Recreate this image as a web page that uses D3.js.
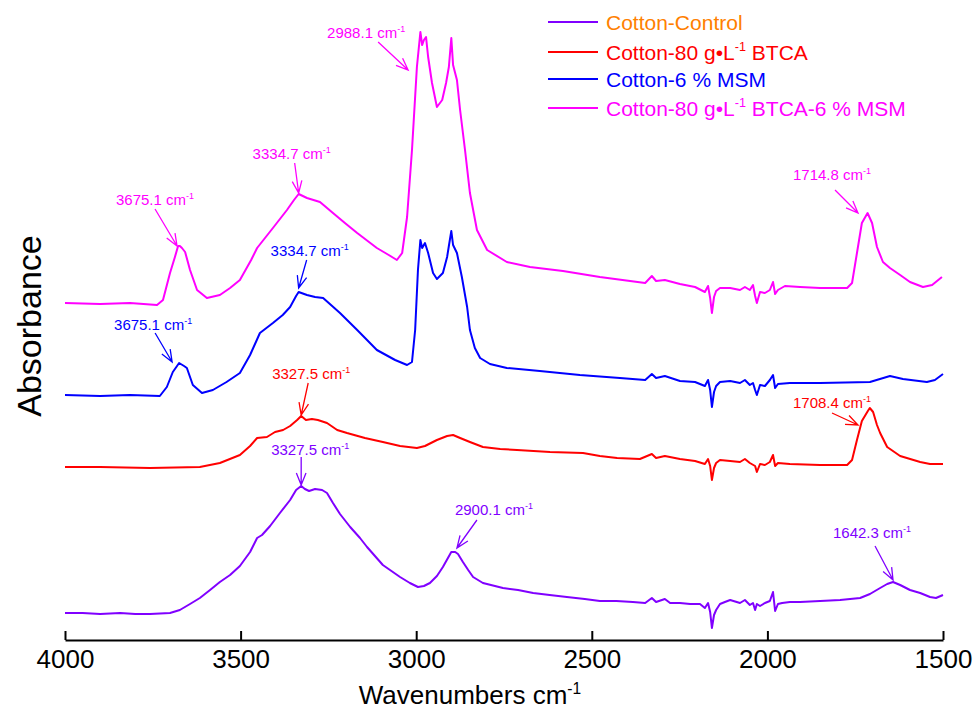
<!DOCTYPE html>
<html>
<head>
<meta charset="utf-8">
<script src="https://cdn.jsdelivr.net/npm/d3@7"></script>
<style>
  body {margin: 0; background: #fff;}
  svg {display: block; font-family: Arial, "Liberation Sans", sans-serif;}
</style>
</head>
<body>
<svg id="chart" width="974" height="711"></svg>
<script>
// spectra, [wavenumber cm-1, absorbance (offset, arb. units)]
var control = [
  [4000, 0.27], [3950, 0.27], [3900, 0.26], [3843, 0.27], [3800, 0.26], [3758, 0.26], [3701, 0.27], [3673, 0.30],
  [3644, 0.36], [3616, 0.42], [3587, 0.50], [3559, 0.58], [3530, 0.65], [3502, 0.74],
  [3473, 0.88], [3453, 1.02], [3439, 1.05], [3416, 1.14], [3388, 1.27], [3359, 1.40],
  [3342, 1.50], [3327.5, 1.54], [3317, 1.51], [3305, 1.49], [3288, 1.51], [3268, 1.50],
  [3254, 1.47], [3237, 1.37], [3217, 1.26], [3188, 1.13], [3160, 1.02], [3140, 0.93],
  [3095, 0.75], [3046, 0.63], [3018, 0.57], [2995, 0.53], [2978, 0.54], [2961, 0.57],
  [2941, 0.64], [2924, 0.73], [2900.1, 0.88], [2889, 0.88], [2881, 0.86], [2867, 0.78],
  [2852, 0.70], [2838, 0.63], [2810, 0.57], [2753, 0.52], [2710, 0.50], [2667, 0.47], [2620, 0.45], [2571, 0.43],
  [2520, 0.41], [2477, 0.39], [2430, 0.39], [2383, 0.38], [2348, 0.37], [2329, 0.42], [2317, 0.38], [2292, 0.41],
  [2277, 0.37], [2249, 0.37], [2220, 0.36], [2192, 0.36], [2178, 0.32], [2169, 0.37],
  [2163, 0.28], [2158, 0.12], [2152, 0.25], [2146, 0.30], [2135, 0.36], [2121, 0.38],
  [2106, 0.40], [2078, 0.37], [2064, 0.40], [2050, 0.35], [2041, 0.37], [2035, 0.30],
  [2030, 0.36], [2021, 0.34], [2007, 0.37], [1993, 0.39], [1984, 0.48], [1978, 0.29],
  [1970, 0.36], [1958, 0.37], [1936, 0.38], [1907, 0.38], [1850, 0.39], [1793, 0.40],
  [1736, 0.42], [1708, 0.46], [1679, 0.52], [1659, 0.56], [1642.3, 0.58], [1622, 0.55],
  [1594, 0.50], [1565, 0.47], [1537, 0.43], [1520, 0.42], [1500, 0.45]
]

var btca = [
  [4000, 1.73], [3900, 1.73], [3758, 1.72], [3616, 1.73], [3559, 1.77], [3502, 1.85],
  [3473, 1.94], [3453, 2.02], [3425, 2.03], [3402, 2.08], [3379, 2.10], [3359, 2.14],
  [3339, 2.20], [3327.5, 2.24], [3314, 2.20], [3297, 2.21], [3280, 2.20], [3254, 2.17],
  [3225, 2.10], [3197, 2.07], [3146, 2.02], [3095, 1.98], [3046, 1.94], [2998, 1.92],
  [2975, 1.94], [2941, 2.00], [2912, 2.04], [2895, 2.05], [2875, 2.02], [2847, 1.98],
  [2810, 1.93], [2761, 1.91], [2713, 1.90], [2619, 1.88], [2525, 1.87], [2477, 1.84],
  [2428, 1.82], [2363, 1.81], [2329, 1.86], [2317, 1.82], [2292, 1.84], [2249, 1.81],
  [2206, 1.79], [2178, 1.76], [2169, 1.81], [2163, 1.74], [2158, 1.60], [2152, 1.72],
  [2146, 1.77], [2135, 1.80], [2106, 1.79], [2078, 1.78], [2064, 1.81], [2050, 1.77],
  [2035, 1.74], [2030, 1.68], [2021, 1.76], [2007, 1.75], [1993, 1.78], [1984, 1.85],
  [1978, 1.74], [1970, 1.77], [1936, 1.76], [1850, 1.75], [1773, 1.75], [1759, 1.80],
  [1745, 2.00], [1731, 2.19], [1714, 2.29], [1708.4, 2.32], [1699, 2.28], [1688, 2.15],
  [1679, 2.07], [1659, 1.93], [1622, 1.84], [1565, 1.78], [1537, 1.76], [1500, 1.76]
]

var msm = [
  [4000, 2.45], [3900, 2.44], [3815, 2.45], [3730, 2.44], [3710, 2.53], [3693, 2.68],
  [3681, 2.74], [3675.1, 2.77], [3661, 2.74], [3653, 2.72], [3636, 2.55], [3610, 2.47],
  [3579, 2.50], [3540, 2.58], [3502, 2.67], [3473, 2.85], [3445, 3.07], [3408, 3.17], [3380, 3.25], [3359, 3.33],
  [3342, 3.44], [3334.7, 3.48], [3311, 3.45], [3288, 3.43], [3265, 3.42], [3217, 3.27],
  [3168, 3.10], [3112, 2.90], [3060, 2.80], [3026, 2.75], [3012, 2.78], [3003, 3.10],
  [2995, 3.70], [2988.1, 4.00], [2983, 3.92], [2975, 3.97], [2966, 3.87], [2952, 3.67],
  [2941, 3.61], [2924, 3.67], [2912, 3.83], [2907, 3.94], [2900, 4.09], [2895, 3.95],
  [2884, 3.87], [2870, 3.63], [2855, 3.33], [2847, 3.10], [2833, 2.92], [2818, 2.82],
  [2790, 2.76], [2742, 2.72], [2648, 2.69], [2534, 2.65], [2420, 2.62], [2348, 2.60],
  [2329, 2.66], [2317, 2.62], [2292, 2.64], [2249, 2.59], [2206, 2.58], [2178, 2.54],
  [2169, 2.60], [2163, 2.50], [2158, 2.33], [2152, 2.48], [2146, 2.54], [2135, 2.58],
  [2106, 2.59], [2078, 2.57], [2064, 2.60], [2050, 2.55], [2041, 2.57], [2035, 2.50],
  [2030, 2.45], [2021, 2.55], [2007, 2.54], [1993, 2.60], [1984, 2.65], [1978, 2.52],
  [1970, 2.56], [1936, 2.57], [1850, 2.57], [1708, 2.58], [1651, 2.64], [1614, 2.61],
  [1546, 2.58], [1523, 2.60], [1500, 2.66]
]

var btcaMsm = [
  [4000, 3.37], [3900, 3.36], [3815, 3.37], [3738, 3.35], [3721, 3.40], [3701, 3.67],
  [3687, 3.83], [3678, 3.94], [3673, 3.94], [3667, 3.92], [3658, 3.88], [3644, 3.70],
  [3624, 3.50], [3596, 3.42], [3559, 3.45], [3530, 3.52], [3502, 3.60], [3470, 3.80], [3453, 3.92], [3408, 4.12],
  [3368, 4.30], [3348, 4.40], [3334.7, 4.46], [3311, 4.42], [3274, 4.38], [3237, 4.27],
  [3203, 4.17], [3168, 4.07], [3112, 3.92], [3083, 3.86], [3055, 3.80], [3040, 3.87],
  [3026, 4.23], [3012, 4.90], [2998, 5.73], [2988.1, 6.08], [2983, 5.95], [2978, 6.00],
  [2972, 6.03], [2966, 5.83], [2955, 5.57], [2941, 5.33], [2926, 5.40], [2915, 5.57],
  [2907, 5.73], [2900, 6.02], [2895, 5.75], [2884, 5.60], [2875, 5.30], [2861, 4.90],
  [2847, 4.47], [2827, 4.10], [2798, 3.90], [2742, 3.78], [2676, 3.73], [2582, 3.69],
  [2477, 3.63], [2391, 3.59], [2348, 3.57], [2329, 3.64], [2317, 3.59], [2292, 3.60],
  [2249, 3.56], [2206, 3.53], [2178, 3.48], [2169, 3.54], [2163, 3.42], [2158, 3.27],
  [2152, 3.43], [2146, 3.49], [2135, 3.52], [2106, 3.52], [2078, 3.50], [2064, 3.53],
  [2050, 3.50], [2041, 3.55], [2035, 3.44], [2030, 3.37], [2021, 3.48], [2007, 3.47],
  [1993, 3.50], [1984, 3.58], [1978, 3.46], [1970, 3.50], [1950, 3.54], [1907, 3.53],
  [1850, 3.52], [1773, 3.52], [1759, 3.57], [1745, 3.87], [1731, 4.17], [1714.8, 4.27],
  [1702, 4.17], [1688, 3.93], [1671, 3.78], [1651, 3.72], [1622, 3.65], [1594, 3.58],
  [1557, 3.53], [1531, 3.55], [1503, 3.63]
]

// legend labels as [text, superscript?] pieces
var seriesNames = [
  [['Cotton-Control', 0]],
  [['Cotton-80 g\u2022L', 0], ['-1', 1], [' BTCA', 0]],
  [['Cotton-6 % MSM', 0]],
  [['Cotton-80 g\u2022L', 0], ['-1', 1], [' BTCA-6 % MSM', 0]]
]
var lineColors = ['#8000ff', '#ff0000', '#0000ff', '#ff00ff']
var nameColors = ['#ff8000', '#ff0000', '#0000ff', '#ff00ff']

var majorTicks = [4000, 3500, 3000, 2500, 2000, 1500]
var minorTicks = [3750, 3250, 2750, 2250, 1750]

// peak annotations
var annoSeries = [3, 3, 3, 2, 2, 1, 0, 0, 0, 1, 3]
var annoLabels = ['2988.1', '3334.7', '3675.1', '3334.7', '3675.1', '3327.5', '3327.5', '2900.1', '1642.3', '1708.4', '1714.8']
var annoWn = [3023, 3334.7, 3681, 3334.7, 3695, 3327.5, 3327.5, 2884, 1642.3, 1742, 1742]
var annoAbs = [5.70, 4.47, 3.94, 3.52, 2.78, 2.25, 1.55, 0.92, 0.60, 2.15, 4.27]
// arrow start and label offset from the tip, px
var annoLayout = [
  {sx: -30, sy: -28, tx: -42, ty: -32},
  {sx: -4, sy: -30, tx: -7, ty: -34},
  {sx: -22, sy: -37, tx: -22, ty: -41},
  {sx: 8, sy: -28, tx: 11, ty: -32},
  {sx: -17, sy: -29, tx: -19, ty: -32},
  {sx: 7, sy: -32, tx: 10, ty: -36},
  {sx: 0, sy: -28, tx: 9, ty: -30},
  {sx: 20, sy: -28, tx: 37, ty: -33},
  {sx: -18, sy: -34, tx: -21, ty: -42},
  {sx: -26, sy: -12, tx: -26, ty: -17},
  {sx: -23, sy: -23, tx: -26, ty: -33}
]

var allSeries = [control, btca, msm, btcaMsm]

var svg = d3.select('#chart')

var x = d3.scaleLinear().domain([4000, 1500]).range([65, 943])
var y = d3.scaleLinear().domain([0, 6.4]).range([640, 0])

var line = d3.line().x(d => x(d[0])).y(d => y(d[1]))

function richText(sel, pieces, fs){
  pieces.forEach(([t, sup], i) => {
    var ts = sel.append('tspan').text(t)
    if (sup) ts.attr('font-size', fs*0.6).attr('dy', -fs*0.4)
    else if (i > 0 && pieces[i - 1][1]) ts.attr('dy', fs*0.4)
  })
}

// spectra
svg.append('g').selectAll('path')
  .data(allSeries)
  .join('path')
  .attr('d', line)
  .attr('fill', 'none')
  .attr('stroke', (d, i) => lineColors[i])
  .attr('stroke-width', 2)
  .attr('stroke-linejoin', 'round')

// x axis
var axisG = svg.append('g').attr('transform', 'translate(0,640)')
axisG.call(d3.axisBottom(x).tickValues(minorTicks).tickSize(-5).tickSizeOuter(0).tickFormat(''))
axisG.call(d3.axisBottom(x).tickValues(majorTicks).tickSize(-9).tickSizeOuter(0).tickPadding(10).tickFormat(d3.format('d')))
axisG.selectAll('path, line').attr('stroke', '#000').attr('stroke-width', 2)
axisG.selectAll('text').attr('font-size', 26).attr('font-family', 'Arial, "Liberation Sans", sans-serif').attr('fill', '#000')

svg.append('text')
  .attr('x', 470).attr('y', 704)
  .attr('text-anchor', 'middle')
  .attr('font-size', 26)
  .call(richText, [['Wavenumbers cm', 0], ['-1', 1]], 26)

svg.append('text')
  .attr('transform', 'translate(41,326) rotate(-90)')
  .attr('text-anchor', 'middle')
  .attr('font-size', 34)
  .text('Absorbance')

// legend
var legendRowY = [22, 52, 79, 108]
var lg = svg.append('g').selectAll('g')
  .data(seriesNames)
  .join('g')
  .attr('transform', (d, i) => `translate(548,${legendRowY[i]})`)
lg.append('line').attr('x2', 50).attr('stroke', (d, i) => lineColors[i]).attr('stroke-width', 2)
lg.append('text')
  .attr('x', 58).attr('y', 7.5)
  .attr('font-size', 21)
  .attr('fill', (d, i) => nameColors[i])
  .each(function(d){ d3.select(this).call(richText, d, 21) })

// annotations
svg.append('g').selectAll('g')
  .data(annoLabels)
  .join('g')
  .attr('transform', (d, i) => `translate(${x(annoWn[i])},${y(annoAbs[i])})`)
  .each(function(d, i){
    var g = d3.select(this)
    var c = lineColors[annoSeries[i]]
    var L = annoLayout[i]
    var ang = Math.atan2(L.sy, L.sx)
    var head = [ang - 0.38, ang + 0.38].map(a => [Math.cos(a)*13, Math.sin(a)*13])
    g.append('path')
      .attr('d', `M${L.sx},${L.sy}L0,0M${head[0][0]},${head[0][1]}L0,0L${head[1][0]},${head[1][1]}`)
      .attr('fill', 'none').attr('stroke', c).attr('stroke-width', 1.3)
    g.append('text')
      .attr('x', L.tx).attr('y', L.ty)
      .attr('text-anchor', 'middle')
      .attr('font-size', 15)
      .attr('fill', c)
      .call(richText, [[d + ' cm', 0], ['-1', 1]], 15)
  })
</script>
</body>
</html>
